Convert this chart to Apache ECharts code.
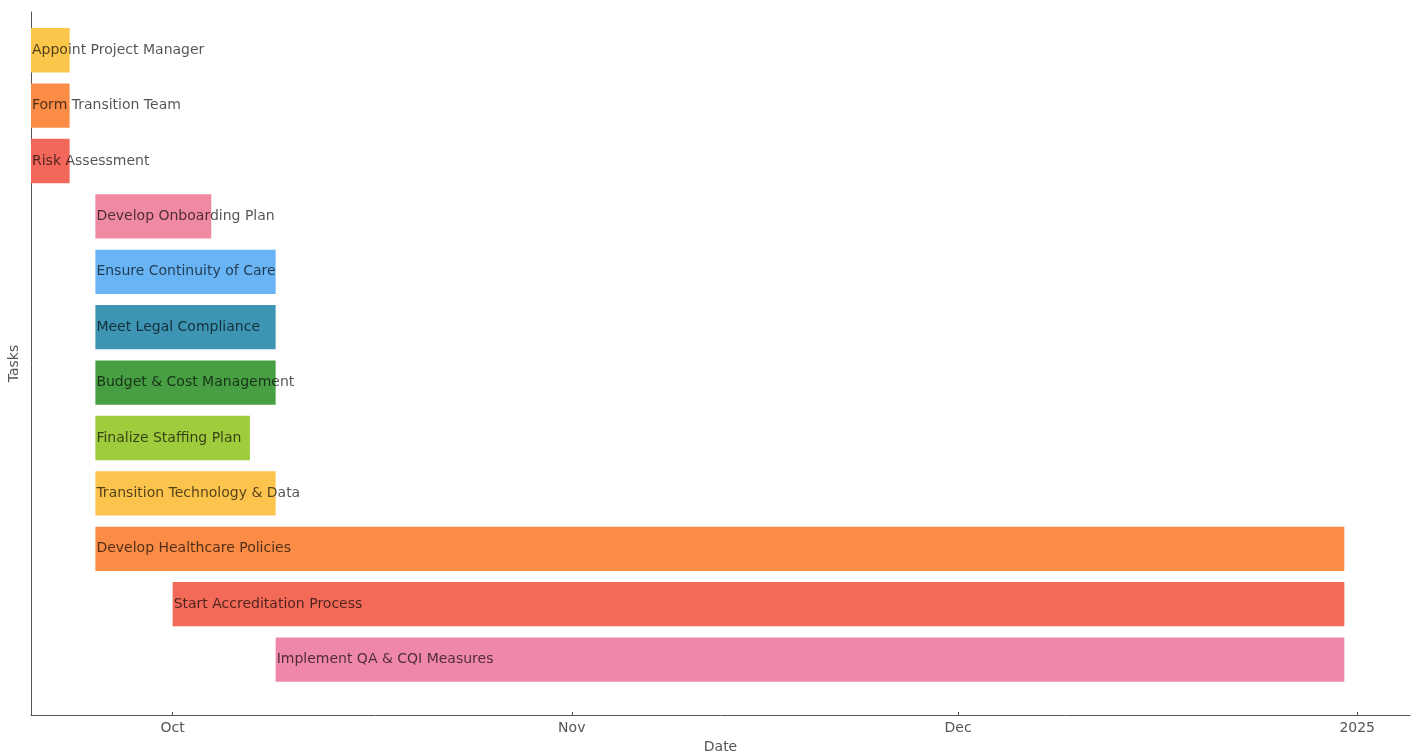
<!DOCTYPE html>
<html>
<head>
<meta charset="utf-8">
<script src="https://cdn.jsdelivr.net/npm/echarts@6/dist/echarts.min.js"></script>
<style>
  html, body { margin: 0; padding: 0; background: #fff; }
  #chart { width: 1417px; height: 756px; }
</style>
</head>
<body>
<div id="chart"></div>
<script>
// Transition plan tasks, top to bottom
const tasks = [
  'Appoint Project Manager',
  'Form Transition Team',
  'Risk Assessment',
  'Develop Onboarding Plan',
  'Ensure Continuity of Care',
  'Meet Legal Compliance',
  'Budget & Cost Management',
  'Finalize Staffing Plan',
  'Transition Technology & Data',
  'Develop Healthcare Policies',
  'Start Accreditation Process',
  'Implement QA & CQI Measures'
];
const startDates = [
  '2024-09-20', '2024-09-20', '2024-09-20',
  '2024-09-25', '2024-09-25', '2024-09-25', '2024-09-25', '2024-09-25', '2024-09-25',
  '2024-09-25', '2024-10-01', '2024-10-09'
];
const endDates = [
  '2024-09-23', '2024-09-23', '2024-09-23',
  '2024-10-04', '2024-10-09', '2024-10-09', '2024-10-09', '2024-10-07', '2024-10-09',
  '2024-12-31', '2024-12-31', '2024-12-31'
];
const barColors = [
  '#FCC64B', '#FA8C45', '#F2675A', '#EF8AA2', '#68B4F5', '#3D95B3',
  '#479E43', '#9FCC3C', '#FCC44C', '#FA8C45', '#F46A58', '#EF88A8'
];
// Month ticks along the date axis
const tickDates = ['2024-10-01', '2024-11-01', '2024-12-01', '2025-01-01'];
const tickLabels = ['Oct', 'Nov', 'Dec', '2025'];

function toTime(s) {
  const p = s.split('-').map(Number);
  return Date.UTC(p[0], p[1] - 1, p[2]);
}

const DAY = 86400000;
const axisMin = toTime('2024-09-20');
const axisMax = toTime('2024-12-31') + 5.1 * DAY;
const tickTimes = tickDates.map(toTime);

const seriesData = tasks.map((t, i) => ({
  name: t,
  value: [i, toTime(startDates[i]), toTime(endDates[i])]
}));

const chart = echarts.init(document.getElementById('chart'), null, { renderer: 'canvas' });

const FONT = '"DejaVu Sans", sans-serif';
const AXIS_COLOR = '#555';

chart.setOption({
  animation: false,
  backgroundColor: '#ffffff',
  grid: { left: 31, right: 7, top: 12, bottom: 41, containLabel: false, outerBoundsMode: 'none' },
  xAxis: {
    type: 'value',
    min: axisMin,
    max: axisMax,
    name: 'Date',
    nameLocation: 'middle',
    nameGap: 25,
    nameTextStyle: { fontFamily: FONT, fontSize: 14, color: '#555' },
    axisLine: { show: true, onZero: false, lineStyle: { color: AXIS_COLOR, width: 1 } },
    axisTick: { show: true, inside: true, length: 3, lineStyle: { color: AXIS_COLOR }, customValues: tickTimes },
    axisLabel: {
      customValues: tickTimes,
      fontFamily: FONT, fontSize: 14, color: '#555', margin: 6,
      formatter: function (v) {
        const idx = tickTimes.indexOf(v);
        return idx >= 0 ? tickLabels[idx] : '';
      }
    },
    splitLine: { show: false }
  },
  yAxis: {
    type: 'value',
    inverse: true,
    min: -0.69,
    max: 12.0,
    name: 'Tasks',
    nameLocation: 'middle',
    nameGap: 10,
    nameRotate: 90,
    nameTextStyle: { fontFamily: FONT, fontSize: 14, color: '#555' },
    axisLine: { show: true, onZero: false, lineStyle: { color: AXIS_COLOR, width: 1 } },
    axisTick: { show: false },
    axisLabel: { show: false },
    splitLine: { show: false }
  },
  series: [{
    type: 'custom',
    data: seriesData,
    encode: { x: [1, 2], y: 0 },
    renderItem: function (params, api) {
      const idx = api.value(0);
      const p0 = api.coord([api.value(1), idx]);
      const p1 = api.coord([api.value(2), idx]);
      const h = api.size([0, 0.8])[1];
      const x = p0[0];
      const w = p1[0] - p0[0];
      return {
        type: 'group',
        children: [
          {
            type: 'rect',
            shape: { x: x, y: p0[1] - h / 2, width: w, height: h },
            style: { fill: barColors[params.dataIndex] }
          },
          {
            type: 'text',
            x: x + 1,
            y: p0[1],
            z2: 10,
            style: {
              text: tasks[params.dataIndex],
              fontFamily: FONT,
              fontSize: 14,
              fill: 'rgba(0,0,0,0.68)',
              verticalAlign: 'middle',
              align: 'left'
            }
          }
        ]
      };
    }
  }]
});
</script>
</body>
</html>
